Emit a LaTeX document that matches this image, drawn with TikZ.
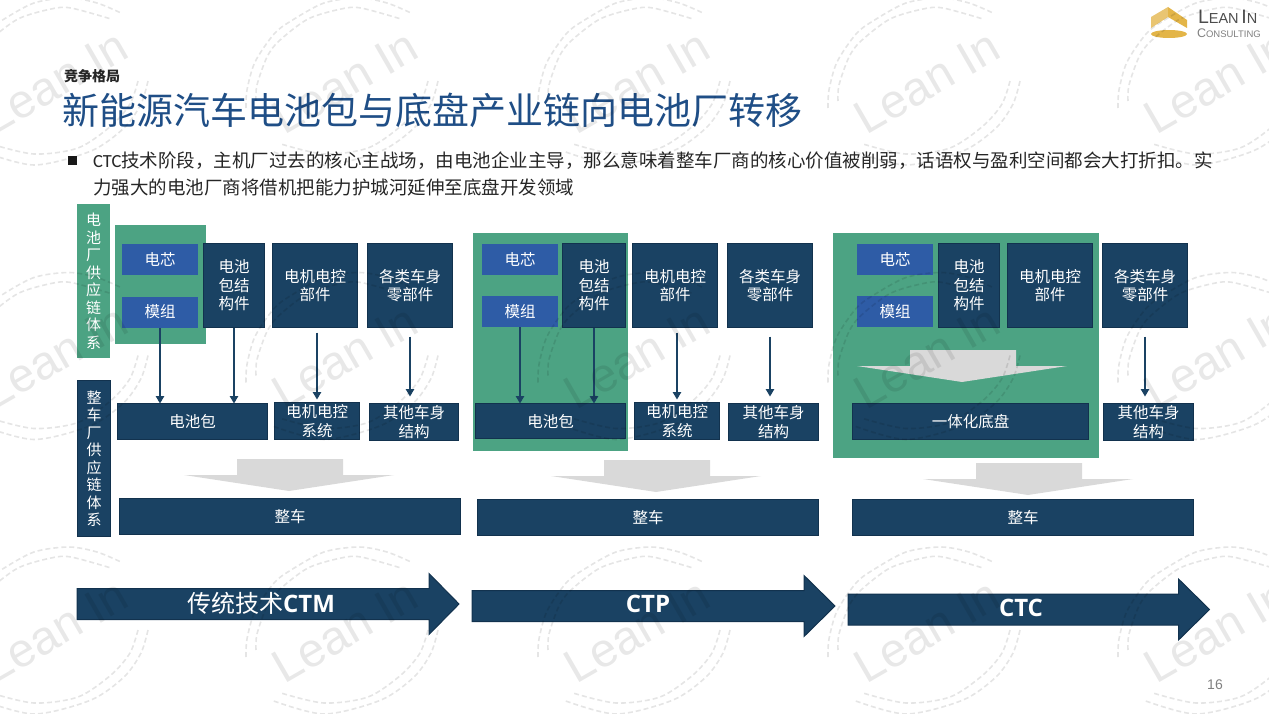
\documentclass[tikz,border=0pt]{standalone}
\usepackage{fontspec}
\setmainfont{Noto Sans CJK SC}
\newfontfamily\arialfont{Liberation Sans}
\newfontfamily\carlitofont{Carlito}
\newfontfamily\opensansfont{Open Sans}
\usetikzlibrary{arrows.meta}
\definecolor{navy}{HTML}{1A4263}
\definecolor{navyline}{HTML}{12324E}
\definecolor{cellblue}{HTML}{2E5CA6}
\definecolor{leafgreen}{HTML}{4CA383}
\definecolor{titleblue}{HTML}{1F4E86}
\definecolor{gold}{HTML}{E3B548}
\definecolor{goldlight}{HTML}{E9C572}
\begin{document}
\begin{tikzpicture}[x=1pt, y=-1pt,
    every node/.style={inner sep=0pt, outer sep=0pt},
    navybox/.style={draw=navyline, line width=1.2pt, fill=navy, text=white, align=center,
        font=\fontsize{15.5}{18.5}\selectfont},
    cellbox/.style={fill=cellblue, text=white, minimum width=76pt, minimum height=31pt,
        font=\fontsize{15.5}{18.5}\selectfont},
    partbox/.style={navybox, minimum width=85pt, minimum height=84pt},
    structbox/.style={navybox, minimum width=61pt, minimum height=84pt},
    sysbox/.style={navybox, minimum height=37pt},
    carbox/.style={navybox, minimum width=341pt, minimum height=36pt},
    sidebox/.style={align=center, text=white, font=\fontsize{15}{17.5}\selectfont},
    greenback/.style={fill=leafgreen},
    feed/.style={draw=navy, line width=1.2pt, -{Triangle[length=7.5pt, width=8.5pt]}},
    bigdown/.style={fill=black!15},
    stagearrow/.style={draw=navyline, line width=1pt, fill=navy},
    stagelabel/.style={text=white, font=\fontsize{24}{28}\selectfont},
    ringline/.style={draw=black, opacity=0.1, line width=1.6pt, dash pattern=on 5pt off 3pt},
    wmtext/.style={text=black, opacity=0.09, rotate=30, font=\arialfont\fontsize{47.5}{54}\selectfont}
]
\useasboundingbox (0,0) rectangle (1269,714);

% Header
\node[anchor=west, text=black!85, font=\fontsize{14}{16}\selectfont\bfseries] (kicker) at (64,76) {竞争格局};
\node[anchor=west, text=titleblue, font=\fontsize{37}{42}\selectfont] (title) at (62,110) {新能源汽车电池包与底盘产业链向电池厂转移};
\node[fill=black!90, minimum size=9pt] (bullet) at (72,161) {};
\node[anchor=west, text=black!85, font=\fontsize{18.5}{22}\selectfont] (line1) at (93,161) {{\carlitofont CTC}技术阶段，主机厂过去的核心主战场，由电池企业主导，那么意味着整车厂商的核心价值被削弱，话语权与盈利空间都会大打折扣。实};
\node[anchor=west, text=black!85, font=\fontsize{18.5}{22}\selectfont] (line2) at (93,187) {力强大的电池厂商将借机把能力护城河延伸至底盘开发领域};

% Logo
\fill[goldlight] (1151,17) -- (1168,7) -- (1168,17) -- (1151,28) -- cycle;
\fill[gold] (1168,7) -- (1187,20) -- (1187,28) -- (1168,17) -- cycle;
\fill[gold] (1169,34) ellipse (18 and 4);
\node[anchor=west, text=black!70, font=\arialfont] (logotop) at (1198,17)
    {{\fontsize{19.5}{20}\selectfont L}{\fontsize{14.5}{20}\selectfont EAN} {\fontsize{19.5}{20}\selectfont I}{\fontsize{14.5}{20}\selectfont N}};
\node[anchor=west, text=black!50, font=\arialfont] (logobottom) at (1197,33)
    {{\fontsize{12.5}{14}\selectfont C}{\fontsize{9.5}{14}\selectfont ONSULTING}};

% Side labels
\node[sidebox, fill=leafgreen, minimum width=33pt, minimum height=154pt] (sidebattery) at (93.5,281)
    {电\\池\\厂\\供\\应\\链\\体\\系};
\node[navybox, font=\fontsize{15}{17.5}\selectfont, minimum width=33pt, minimum height=156pt] (sidecar) at (94,458.5)
    {整\\车\\厂\\供\\应\\链\\体\\系};

% Green areas
\node[greenback, minimum width=91pt, minimum height=119pt] (green1) at (160.5,284.5) {};
\node[greenback, minimum width=155pt, minimum height=218pt] (green2) at (550.5,342) {};
\node[greenback, minimum width=266pt, minimum height=225pt] (green3) at (966,345.5) {};

% Grey block arrows
\foreach \bx/\by in {237/459, 604/460, 910/350, 976/463}
    \fill[bigdown] (\bx,\by) -- ++(106,0) -- ++(0,16) -- ++(51,0) -- ++(-105,16) -- ++(-105,-16) -- ++(53,0) -- cycle;

% CTM column
\node[cellbox] (cell1) at (160,259.5) {电芯};
\node[cellbox] (module1) at (160,312) {模组};
\node[structbox] (struct1) at (234,285.5) {电池\\包结\\构件};
\node[partbox] (motor1) at (315,285.5) {电机电控\\部件};
\node[partbox] (body1) at (410,285.5) {各类车身\\零部件};
\node[navybox, minimum width=150pt, minimum height=36pt] (pack1) at (192.5,421.5) {电池包};
\node[sysbox, minimum width=85pt] (motorsys1) at (317,421) {电机电控\\系统};
\node[sysbox, minimum width=89pt] (other1) at (414,422) {其他车身\\结构};
\node[carbox] (car1) at (290,516.5) {整车};

% CTP column
\node[cellbox] (cell2) at (520,259.5) {电芯};
\node[cellbox] (module2) at (520,311.5) {模组};
\node[structbox, minimum width=63pt] (struct2) at (594,285.5) {电池\\包结\\构件};
\node[partbox] (motor2) at (675,285.5) {电机电控\\部件};
\node[partbox] (body2) at (770,285.5) {各类车身\\零部件};
\node[navybox, minimum width=150pt, minimum height=35pt] (pack2) at (550.5,421) {电池包};
\node[sysbox, minimum width=85pt] (motorsys2) at (677,421) {电机电控\\系统};
\node[sysbox, minimum width=90pt] (other2) at (773.5,422) {其他车身\\结构};
\node[carbox] (car2) at (648,517.5) {整车};

% CTC column
\node[cellbox] (cell3) at (895,259.5) {电芯};
\node[cellbox] (module3) at (895,311.5) {模组};
\node[structbox] (struct3) at (969,285.5) {电池\\包结\\构件};
\node[partbox] (motor3) at (1050,285.5) {电机电控\\部件};
\node[partbox] (body3) at (1145,285.5) {各类车身\\零部件};
\node[navybox, minimum width=236pt, minimum height=36pt] (chassis3) at (970.5,421.5) {一体化底盘};
\node[sysbox, minimum width=90pt] (other3) at (1148.5,422) {其他车身\\结构};
\node[carbox] (car3) at (1023,517.5) {整车};

% Feeds
\foreach \i in {1,2} {
    \draw[feed] (module\i.south) -- (module\i.south |- pack\i.north);
    \draw[feed] (struct\i.south) -- (struct\i.south |- pack\i.north);
    \draw[feed, shorten <=5pt, shorten >=3pt] (motor\i.south -| motorsys\i.north) -- (motorsys\i.north);
}
\foreach \i in {1,2,3}
    \draw[feed, shorten <=9pt, shorten >=7pt] (body\i.south) -- (body\i.south |- other\i.north);

% Stage arrows
\foreach \xa/\xb/\xc/\ym/\lx/\ly/\txt/\nm in {
    77/429/459/604/261/603/{传统技术{\opensansfont\bfseries CTM}}/ctm,
    472/804/835/606/648/604/{\opensansfont\bfseries CTP}/ctp,
    848/1178.5/1209.5/609.5/1021/608/{\opensansfont\bfseries CTC}/ctc} {
    \draw[stagearrow] (\xa,\ym-15.5) -- (\xb,\ym-15.5) -- (\xb,\ym-30.5) -- (\xc,\ym)
        -- (\xb,\ym+30.5) -- (\xb,\ym+15.5) -- (\xa,\ym+15.5) -- cycle;
    \node[stagelabel] (\nm) at (\lx,\ly) {\txt};
}

\node[text=black!50, font=\arialfont\fontsize{14}{16}\selectfont] (pagenum) at (1215,685) {16};

% Watermark
\foreach \cx in {52,342,634,924,1214} {
    \foreach \cy [count=\rw] in {90,364.5,639} {
        \node[wmtext] (wm\cx r\rw) at (\cx+3,\cy-8) {Lean In};
        \begin{scope}[shift={(\cx,\cy)}]
            \draw[ringline] plot[smooth] coordinates {(-96,18) (-95,0) (-87,-28) (-68,-56) (-51,-69) (-18,-87) (17,-92) (45,-87) (69,-77)};
            \draw[ringline] plot[smooth] coordinates {(-86,11) (-85,-5) (-75,-33) (-63,-49) (-34,-71) (-1,-81) (19,-82) (59,-71)};
            \draw[ringline] plot[smooth] coordinates {(96,-9) (89,14) (72,38) (39,61) (-18,75) (-71,61)};
            \draw[ringline] plot[smooth] coordinates {(86,-9) (78,14) (59,36) (26,58) (-18,64) (-61,54)};
        \end{scope}
    }
}
\end{tikzpicture}
\end{document}
